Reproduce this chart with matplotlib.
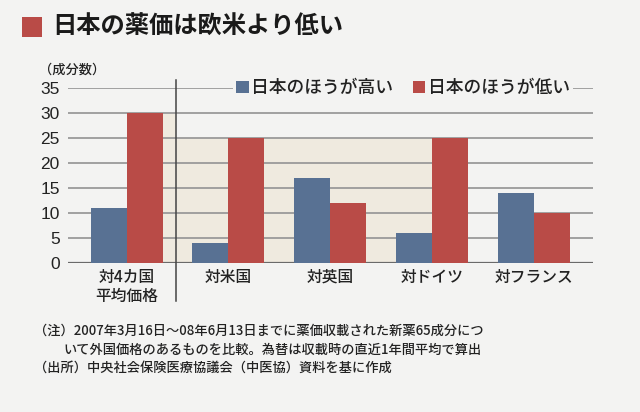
import matplotlib
matplotlib.use('Agg')
import matplotlib.pyplot as plt
from matplotlib.patches import Rectangle
import matplotlib.transforms as mtransforms
import numpy as np

plt.rcParams['font.family'] = ['Noto Sans CJK JP', 'DejaVu Sans']
plt.rcParams['font.weight'] = 'medium'

# ---- data ----
categories = ['対4カ国\n平均価格', '対米国', '対英国', '対ドイツ', '対フランス']
higher = [11, 4, 17, 6, 14]      # 日本のほうが高い
lower = [30, 25, 12, 25, 10]     # 日本のほうが低い
series_names = ['日本のほうが高い', '日本のほうが低い']
yticks = [0, 5, 10, 15, 20, 25, 30, 35]
title = '日本の薬価は欧米より低い'
unit_label = '（成分数）'
notes = ['（注）2007年3月16日～08年6月13日までに薬価収載された新薬65成分につ',
         'いて外国価格のあるものを比較。為替は収載時の直近1年間平均で算出',
         '（出所）中央社会保険医療協議会（中医協）資料を基に作成']

# ---- style ----
bg = '#f3f3f2'
beige = '#efeadf'
blue = '#587193'
red = '#b94b47'
grid_c = '#9a9a9a'
text_c = '#222222'

W, H = 640, 412
fig = plt.figure(figsize=(W / 100, H / 100), dpi=100, facecolor=bg)
ax = fig.add_axes([68 / W, 1 - 263 / H, (593 - 68) / W, 175 / H])
ax.set_facecolor(bg)

x = np.arange(len(categories))
w = 0.353
div_x = 0.49

# highlighted background region
ax.add_patch(Rectangle((x[0] + w, 0), div_x - (x[0] + w), lower[0],
                       facecolor=beige, edgecolor='none', zorder=0.5))
ax.add_patch(Rectangle((div_x, 0), x[3] + w - div_x, lower[1],
                       facecolor=beige, edgecolor='none', zorder=0.5))

# gridlines
for yv in yticks:
    ax.axhline(yv, color=('#6a6a6a' if yv == 0 else grid_c),
               lw=(1.6 if yv == 0 else 1.3), zorder=1)

ax.bar(x - w / 2, higher, w, color=blue, zorder=3, label=series_names[0])
ax.bar(x + w / 2, lower, w, color=red, zorder=3, label=series_names[1])

ax.set_xlim(-0.575, 4.58)
ax.set_ylim(0, 35)
ax.set_yticks(yticks)
ax.set_yticklabels([str(v) for v in yticks], fontsize=12.5,
                   family=['Liberation Sans', 'DejaVu Sans'], color=text_c)
ax.set_xticks(x)
ax.set_xticklabels(categories, fontsize=11.3, color=text_c, linespacing=1.15)
ax.tick_params(axis='both', length=0)
ax.tick_params(axis='y', pad=6)
ax.tick_params(axis='x', pad=4)
for s in ax.spines.values():
    s.set_visible(False)

# divider line
trans = mtransforms.blended_transform_factory(ax.transData, ax.transAxes)
ax.plot([div_x, div_x], [1.046, -0.215], transform=trans, color='#444444',
        lw=1.1, clip_on=False, zorder=4)

leg = ax.legend(loc='center', bbox_to_anchor=(0.638, 1.0), ncol=2,
                frameon=True, facecolor=bg, edgecolor='none', framealpha=1,
                fontsize=12.8, handlelength=0.7, handleheight=0.7,
                handletextpad=0.15, columnspacing=1.1, borderpad=0.15,
                borderaxespad=0)
for t in leg.get_texts():
    t.set_color(text_c)
leg.set_zorder(5)

# title
fig.patches.append(Rectangle((22 / W, 1 - 37 / H), 20 / W, 20 / H,
                             transform=fig.transFigure, facecolor=red,
                             edgecolor='none'))
fig.text(52 / W, 1 - 27 / H, title, fontsize=17.5, fontweight='bold',
         va='center', ha='left', color='#1a1a1a')
fig.text(39 / W, 1 - 70 / H, unit_label, fontsize=9.5, va='center',
         ha='left', color=text_c)

fig.text(34 / W, 1 - 331 / H, notes[0], fontsize=9.5, va='center', ha='left', color=text_c)
fig.text(63 / W, 1 - 350 / H, notes[1], fontsize=9.5, va='center', ha='left', color=text_c)
fig.text(34 / W, 1 - 368 / H, notes[2], fontsize=9.5, va='center', ha='left', color=text_c)

fig.savefig('out.png', dpi=100, facecolor=bg)
